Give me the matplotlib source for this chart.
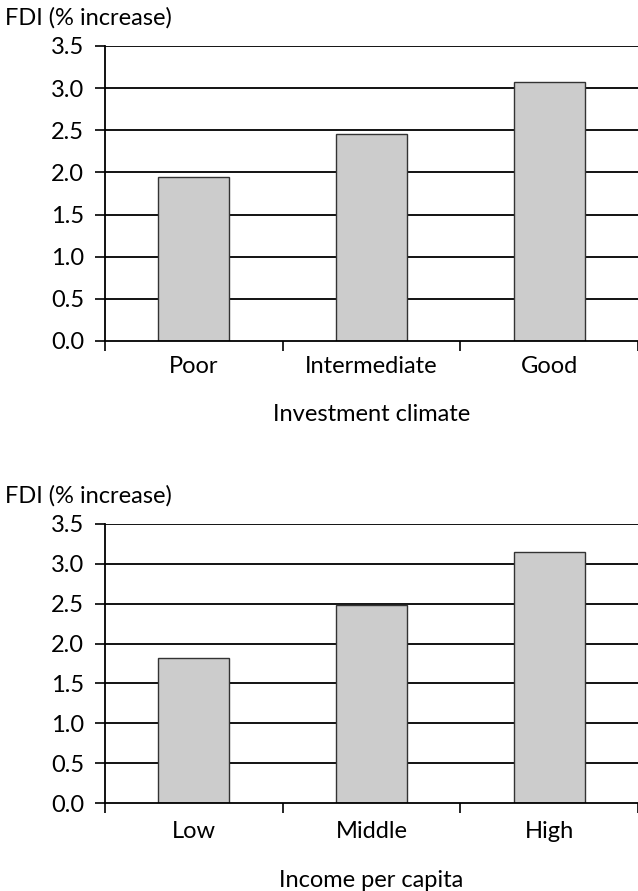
import matplotlib
matplotlib.use("Agg")
import matplotlib.pyplot as plt

plt.rcParams['font.family'] = ['Lato', 'DejaVu Sans']

climate_labels = ["Poor", "Intermediate", "Good"]
climate_fdi = [1.95, 2.45, 3.07]

income_labels = ["Low", "Middle", "High"]
income_fdi = [1.82, 2.48, 3.15]

y_ticks = [0.0, 0.5, 1.0, 1.5, 2.0, 2.5, 3.0, 3.5]

W, H = 638, 891
FS = 17
fig = plt.figure(figsize=(W / 100, H / 100), dpi=100)


def panel(rect, labels, values, xlabel, ylabel_y, tick_pad, label_pad):
    left, top, right, bottom = rect
    ax = fig.add_axes([left / W, 1 - bottom / H, (right - left) / W, (bottom - top) / H])
    x = range(len(labels))
    for v in y_ticks[1:]:
        ax.axhline(v, color="black", lw=1.3, zorder=1)
    ax.bar(x, values, width=0.4, color="#cccccc", edgecolor="#333333", lw=1.0, zorder=2)
    ax.set_xlim(-0.5, len(labels) - 0.5)
    ax.set_ylim(0, 3.5)
    ax.set_yticks(y_ticks)
    ax.set_yticklabels([f"{v:.1f}" for v in y_ticks], fontsize=FS)
    ax.set_xticks([i - 0.5 for i in range(len(labels) + 1)])
    ax.set_xticklabels([""] * (len(labels) + 1))
    ax.set_xticks(list(x), minor=True)
    ax.set_xticklabels(labels, minor=True, fontsize=FS)
    ax.tick_params(axis="x", which="minor", length=0, pad=tick_pad)
    ax.tick_params(axis="x", which="major", length=7, width=1.2, direction="out")
    ax.tick_params(axis="y", length=7, width=1.2, direction="out", pad=8)
    for s in ("top", "right"):
        ax.spines[s].set_visible(False)
    for s in ("left", "bottom"):
        ax.spines[s].set_linewidth(1.3)
    ax.set_xlabel(xlabel, fontsize=FS, labelpad=label_pad)
    fig.text(5 / W, 1 - ylabel_y / H, "FDI (% increase)", fontsize=FS, va="center", ha="left")
    return ax


panel((105, 46, 638, 341), climate_labels, climate_fdi, "Investment climate", 18, 11, 19)
panel((105, 524, 638, 803), income_labels, income_fdi, "Income per capita", 496, 13, 20)

fig.savefig("out.png", dpi=100)
